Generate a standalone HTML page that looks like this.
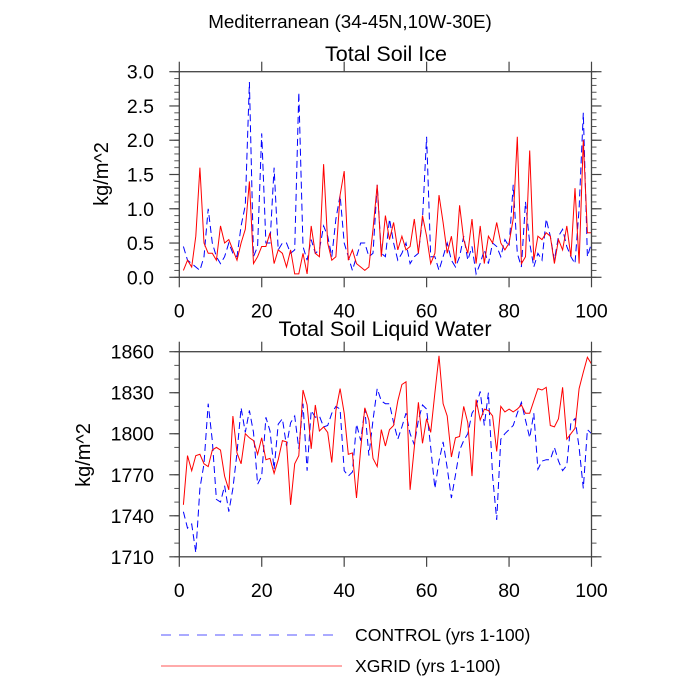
<!DOCTYPE html>
<html><head><meta charset="utf-8"><style>
html,body{margin:0;padding:0;background:#fff}
svg{display:block;font-family:"Liberation Sans",sans-serif}
</style></head><body>
<svg id="chart" width="700" height="700" xmlns="http://www.w3.org/2000/svg">
<text x="350" y="28" font-size="18.8" text-anchor="middle">Mediterranean (34-45N,10W-30E)</text>
<text x="386" y="61" font-size="21.5" text-anchor="middle">Total Soil Ice</text>
<text x="385" y="336" font-size="21.5" text-anchor="middle">Total Soil Liquid Water</text>
<text transform="translate(108,174) rotate(-90)" font-size="20" text-anchor="middle">kg/m^2</text>
<text transform="translate(90,455) rotate(-90)" font-size="20" text-anchor="middle">kg/m^2</text>
<g id="panels"></g>
<g>
<line x1="161" y1="635" x2="338" y2="635" stroke="#7777ff" stroke-width="1.2" stroke-dasharray="10,8"/>
<text x="355" y="641" font-size="17.6">CONTROL (yrs 1-100)</text>
<line x1="161" y1="666" x2="342" y2="666" stroke="#ff7777" stroke-width="1.2"/>
<text x="355" y="672" font-size="17.6">XGRID (yrs 1-100)</text>
</g>
</svg>
<script>
const years = Array.from({length:100},(_,i)=>i+1);
const xTicks = [0,20,40,60,80,100];
const iceTicks = ["0.0","0.5","1.0","1.5","2.0","2.5","3.0"];
const waterTicks = [1710,1740,1770,1800,1830,1860];
const iceXgrid = [0.1,0.25,0.15,0.6,1.6,0.5,0.35,0.35,0.25,0.75,0.5,0.55,0.4,0.25,0.5,0.7,1.4,0.2,0.3,0.45,
0.45,0.65,0.2,0.4,0.35,0.15,0.4,0.05,0.05,0.35,0.05,0.75,0.35,0.3,1.65,0.5,0.25,0.3,1.2,1.55,
0.25,0.4,0.2,0.15,0.1,0.15,0.7,1.35,0.3,0.9,0.55,0.8,0.4,0.6,0.4,0.45,0.85,0.35,0.9,0.6,
0.2,0.35,1.2,0.8,0.35,0.6,0.2,1.05,0.55,0.35,0.85,0.2,0.75,0.2,0.6,0.5,0.8,0.5,0.4,0.5,
0.85,2.05,0.2,0.3,1.85,0.25,0.6,0.55,0.65,0.6,0.2,0.55,0.4,0.75,0.3,1.3,0.2,2.0,0.65,0.65];
const iceControl = [0.45,0.25,0.2,0.15,0.1,0.3,1.0,0.5,0.3,0.2,0.3,0.5,0.35,0.3,0.75,1.05,2.85,0.3,0.45,2.1,
0.5,0.5,1.6,0.4,0.5,0.5,0.35,0.4,2.7,0.45,0.25,0.55,0.35,0.4,0.75,0.6,0.3,0.85,1.2,0.5,
0.3,0.1,0.3,0.5,0.5,0.3,0.35,1.35,0.35,0.3,0.85,0.5,0.25,0.35,0.5,0.2,0.3,0.35,0.85,2.05,
0.3,0.3,0.1,0.3,0.5,0.25,0.15,0.3,0.6,0.25,0.45,0.05,0.2,0.4,0.2,0.5,0.45,0.3,0.55,0.45,
1.35,0.35,0.15,1.1,0.5,0.15,0.35,0.25,0.85,0.6,0.25,0.6,0.7,0.45,0.3,0.2,1.0,2.4,0.3,0.5];
const waterXgrid = [1748,1784,1773,1784,1785,1778,1776,1788,1790,1788,1769,1759,1813,1786,1778,1800,1797,1795,1785,1797,
1781,1782,1771,1781,1795,1794,1748,1778,1784,1832,1821,1789,1821,1802,1805,1801,1779,1817,1833,1815,
1785,1786,1753,1789,1819,1810,1782,1776,1803,1791,1803,1806,1824,1836,1838,1759,1790,1823,1793,1811,
1801,1830,1857,1822,1813,1783,1797,1798,1820,1808,1769,1825,1810,1818,1817,1813,1787,1820,1816,1818,
1816,1818,1821,1815,1815,1824,1833,1832,1834,1806,1805,1811,1834,1796,1800,1804,1833,1845,1856,1851];
const waterControl = [1743,1731,1734,1713,1760,1778,1822,1795,1752,1750,1762,1743,1760,1786,1819,1801,1817,1801,1763,1769,
1812,1802,1774,1807,1811,1791,1808,1813,1789,1822,1773,1817,1812,1813,1805,1806,1815,1820,1818,1773,
1769,1772,1807,1795,1818,1784,1810,1833,1824,1822,1822,1808,1796,1805,1815,1800,1792,1810,1821,1818,
1790,1760,1780,1794,1775,1753,1770,1788,1795,1800,1815,1820,1831,1806,1830,1769,1737,1796,1800,1803,
1806,1815,1823,1810,1797,1815,1774,1780,1781,1781,1790,1780,1773,1777,1808,1811,1790,1760,1803,1800];

const NS="http://www.w3.org/2000/svg";
const root=document.getElementById('panels');
const X0=179.3,X1=591.5;
function xs(v){return X0+(v-0)/(100-0)*(X1-X0);}
function mk(tag,attrs,parent){const e=document.createElementNS(NS,tag);for(const k in attrs)e.setAttribute(k,attrs[k]);parent.appendChild(e);return e;}

function panel(name,top,bot,ymin,ymax,yLabels,minorStep,ctrl,xg){
  const ys=v=>bot-(v-ymin)/(ymax-ymin)*(bot-top);
  const g=mk('g',{},root);
  
  
  for(let v=ymin;v<=ymax+1e-9;v+=minorStep){
    const y=ys(v);
    const l1=mk('line',{x1:X0-5,x2:X0,y1:y,y2:y,stroke:'#555','stroke-width':1},g);
    
    
    const l2=mk('line',{x1:X1,x2:X1+5,y1:y,y2:y,stroke:'#555','stroke-width':1},g);
    
    
  }
  yLabels.forEach(lab=>{
    const y=ys(parseFloat(lab));
    const t1=mk('line',{x1:X0-10,x2:X0,y1:y,y2:y,stroke:'#444','stroke-width':1.2},g);
    
    
    const t2=mk('line',{x1:X1,x2:X1+10,y1:y,y2:y,stroke:'#444','stroke-width':1.2},g);
    
    
    const tx=mk('text',{x:154,y:y+7,'font-size':19.5,'text-anchor':'end'},g);
    tx.textContent=lab;
    
    
  });
  xTicks.forEach(v=>{
    const x=xs(v);
    const t1=mk('line',{x1:x,x2:x,y1:bot,y2:bot+10,stroke:'#444','stroke-width':1.2},g);
    
    
    const t2=mk('line',{x1:x,x2:x,y1:top-10,y2:top,stroke:'#444','stroke-width':1.2},g);
    
    
    const tx=mk('text',{x:x,y:bot+40,'font-size':19.5,'text-anchor':'middle'},g);
    tx.textContent=v;
    
    
  });
  const pc=ctrl.map((v,i)=>xs(years[i]).toFixed(1)+','+ys(v).toFixed(1)).join(' ');
  const lc=mk('polyline',{points:pc,fill:'none',stroke:'#0000ff','stroke-width':1,'stroke-dasharray':'7,4'},g);
  
  
  const px=xg.map((v,i)=>xs(years[i]).toFixed(1)+','+ys(v).toFixed(1)).join(' ');
  const lx=mk('polyline',{points:px,fill:'none',stroke:'#ff0000','stroke-width':1},g);
  
  
  const fr=mk('rect',{x:X0,y:top,width:X1-X0,height:bot-top,fill:'none',stroke:'#444','stroke-width':1.3},g);
  
  
}
panel('soil-ice',71.7,277.3,0,3,iceTicks,0.1,iceControl,iceXgrid);
panel('soil-water',351.7,556.8,1710,1860,waterTicks.map(String),10,waterControl,waterXgrid);
</script>
</body></html>
